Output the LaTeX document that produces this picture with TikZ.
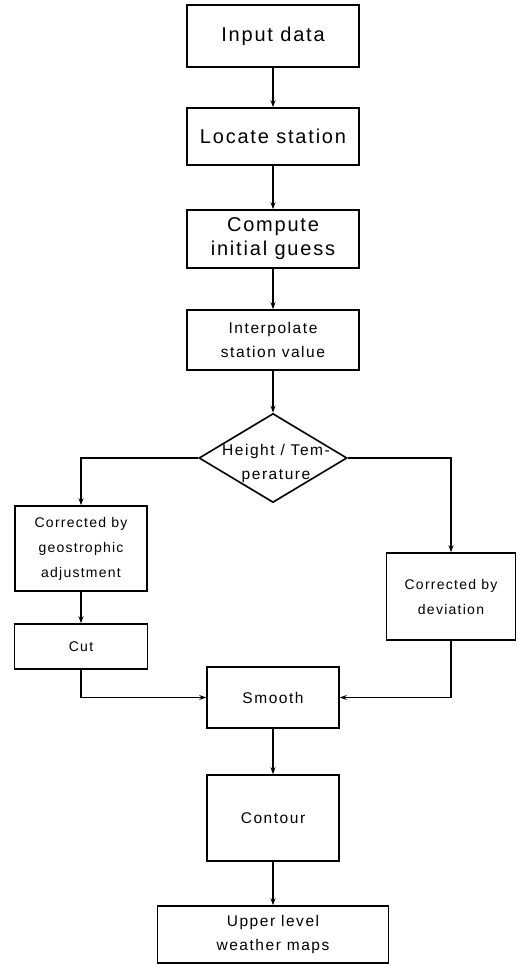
\documentclass[tikz,border=0pt]{standalone}
\usepackage{fontspec}
\setmainfont{Liberation Sans}
\usetikzlibrary{shapes.geometric,arrows.meta}
\newcommand{\bigtxt}{\fontsize{20}{24}\selectfont\addfontfeature{LetterSpace=9}}
\newcommand{\medtxt}{\fontsize{15.5}{24}\selectfont\addfontfeature{LetterSpace=10}}
\newcommand{\smltxt}{\fontsize{14}{25}\selectfont\addfontfeature{LetterSpace=9}}
\begin{document}
\begin{tikzpicture}[x=1pt,y=-1pt,
  box/.style={draw, line width=1.6pt, inner sep=0pt, align=center},
  conn/.style={line width=1.5pt, -{Stealth[length=7pt,width=5pt]}},
  lbl/.style={inner sep=0pt, align=center}]
\useasboundingbox[fill=white] (0,0) rectangle (518,965);
\node[box, minimum width=172pt, minimum height=62pt, font=\bigtxt] (in) at (273,36) {Input data};
\node[box, minimum width=172pt, minimum height=57pt, font=\bigtxt] (loc) at (273,136.5) {Locate station};
\node[box, minimum width=172pt, minimum height=58pt, font=\bigtxt] (comp) at (273,239) {Compute\\initial guess};
\node[box, minimum width=172pt, minimum height=60pt, font=\medtxt] (interp) at (273,340) {Interpolate\\station value};
\node[diamond, draw, line width=1.6pt, minimum width=148pt, minimum height=89pt, inner sep=0pt] (dia) at (273,458) {};
\node[lbl, font=\medtxt] (dialbl) at (276,463) {Height / Tem-\\perature};
\node[box, minimum width=132pt, minimum height=85pt, font=\smltxt] (geo) at (81,548.5) {Corrected by\\geostrophic\\adjustment};
\node[box, minimum width=129pt, minimum height=87pt, font=\smltxt] (dev) at (451,596.5) {Corrected by\\deviation};
\node[box, minimum width=133pt, minimum height=45pt, font=\smltxt] (cut) at (81,646.5) {Cut};
\node[box, minimum width=132pt, minimum height=61pt, font=\medtxt] (smooth) at (273,697.5) {Smooth};
\node[box, minimum width=132pt, minimum height=86pt, font=\medtxt] (contour) at (273,818) {Contour};
\node[box, minimum width=231pt, minimum height=57pt, font=\medtxt] (upper) at (273,934.5) {Upper level\\weather maps};
\draw[conn] (in) -- (loc);
\draw[conn] (loc) -- (comp);
\draw[conn] (comp) -- (interp);
\draw[conn] (interp) -- (dia.north);
\draw[conn] (dia.west) -| (geo.north);
\draw[conn] (dia.east) -| (dev.north);
\draw[conn] (geo) -- (cut);
\draw[conn] (cut.south) |- (smooth.west);
\draw[conn] (dev.south) |- (smooth.east);
\draw[conn] (smooth) -- (contour);
\draw[conn] (contour) -- (upper);
\end{tikzpicture}
\end{document}
